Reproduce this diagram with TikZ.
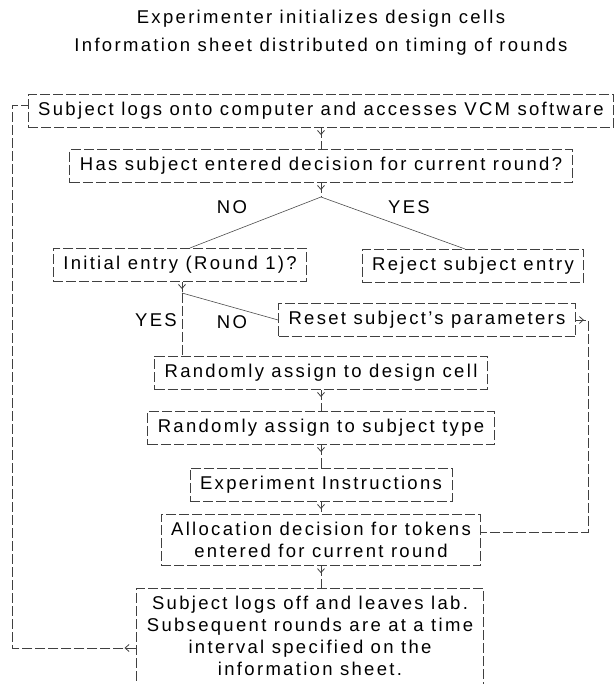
\documentclass[tikz,border=0pt]{standalone}
\usepackage{fontspec}
\setmainfont{Liberation Sans}[LetterSpace=12.5]
\usetikzlibrary{arrows.meta,decorations.markings}

\begin{document}
\begin{tikzpicture}[x=1pt,y=1pt,node distance=55pt,line width=0.8pt,
    font=\fontsize{18.5}{22}\selectfont,
    flow/.style={link,postaction={decorate},decoration={markings,
        mark=at position #1 with {\arrow{Straight Barb[length=4pt,width=7pt]}}}},
    flow/.default=7pt]
        \tikzstyle{box}=[draw=black!75,dash pattern=on 10pt off 3pt,inner xsep=10pt,inner ysep=8pt,align=center]
        \tikzstyle{link}=[draw=black!75,dash pattern=on 10pt off 3pt]
        \tikzstyle{slant}=[draw=black!70,line width=0.6pt]
        \clip (0,0) rectangle (614,684);
        \useasboundingbox (0,0) rectangle (614,684);
        % header
        \node (title1) at (321,665) {Experimenter initializes design cells};
        \node (title2) [node distance=28pt,below of=title1] {Information sheet distributed on timing of rounds};
        % steps
        \node[box] (log)     [node distance=64pt,below of=title2] {Subject logs onto computer and accesses VCM software};
        \node[box] (has)     [below of=log] {Has subject entered decision for current round?};
        \coordinate[node distance=31pt,below of=has] (split);
        \node[box] (initial) [node distance=99pt,below of=has,xshift=-141pt] {Initial entry (Round 1)?};
        \node[box] (reject)  [node distance=100pt,below of=has,xshift=152pt] {Reject subject entry};
        \coordinate[node distance=28pt,below of=initial,xshift=2pt] (junction);
        \node[box] (reset)   [node distance=154pt,below of=has,xshift=106pt] {Reset subject's parameters};
        \node[box] (design)  [node distance=207pt,below of=has] {Randomly assign to design cell};
        \node[box] (type)    [below of=design] {Randomly assign to subject type};
        \node[box] (instr)   [node distance=57pt,below of=type] {Experiment Instructions};
        \node[box] (alloc)   [below of=instr] {Allocation decision for tokens\\entered for current round};
        \node[box] (off)     [node distance=48pt,below of=alloc,anchor=north,xshift=-11pt]
            {Subject logs off and leaves lab.\\Subsequent rounds are at a time\\interval specified on the\\information sheet.};
        % answers
        \node (no1)  [node distance=10pt,below of=split,xshift=-89pt] {NO};
        \node (yes1) [node distance=10pt,below of=split,xshift=88pt] {YES};
        \node (yes2) [node distance=27pt,below of=junction,xshift=-26pt] {YES};
        \node (no2)  [node distance=29pt,below of=junction,xshift=50pt] {NO};
        % connectors
        \draw[flow] (log) -- (has);
        \draw[flow] (has) -- (split);
        \draw[slant] (split) -- ([xshift=10pt]initial.north);
        \draw[slant] (split) -- ([xshift=-8pt]reject.north);
        \draw[flow] ([xshift=2pt]initial.south) -- (junction);
        \draw[link] (junction) -- (junction |- design.north);
        \draw[slant] (junction) -- (reset.west);
        \draw[flow=8pt] (reset.east) -- ++(12,0) |- ([yshift=8pt]alloc.east);
        \draw[flow] (design) -- (type);
        \draw[flow] (type) -- (instr);
        \draw[flow] (instr) -- (alloc);
        \draw[flow] (alloc.south) -- (alloc.south |- off.north);
        \draw[flow=12pt] ([yshift=-60pt]off.north west) -- ++(-124,0) |- ([yshift=6pt]log.west);
    \end{tikzpicture}
\end{document}
